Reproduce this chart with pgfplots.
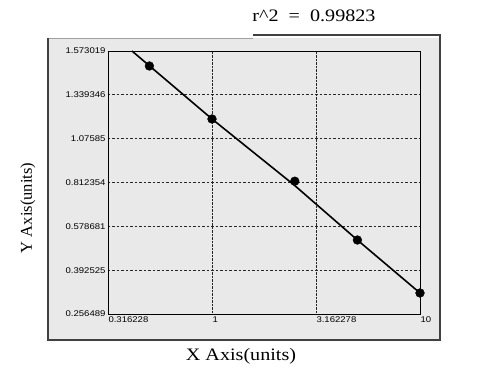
\documentclass[border=0pt]{standalone}
\usepackage{fontspec}
\setmainfont{Liberation Serif}
\setsansfont{Liberation Sans}
\usepackage{pgfplots}
\pgfplotsset{compat=1.18}
\definecolor{panel}{HTML}{E9E9E9}
\definecolor{frameg}{HTML}{A0A0A0}
\newcommand{\tl}[1]{\scalebox{1.15}[1]{\sffamily\fontsize{8.3}{9}\selectfont #1}}
\begin{document}
\begin{tikzpicture}[x=1pt,y=1pt]
\useasboundingbox (0,0) rectangle (493,-382);
\fill[panel] (48,-38) rectangle (440,-340);
\draw[frameg, line width=0.8] (48,-38) -- (253,-38);
\draw[black!75, line width=1.2] (253,-35) -- (440,-35) -- (440,-340) -- (48,-340) -- (48,-38);
\node[font=\fontsize{17.5}{20}\selectfont] at (314,-16) {\scalebox{1.15}[1]{r\textasciicircum 2\ \ =\ \ 0.99823}};
\node[rotate=90, font=\fontsize{16.5}{18}\selectfont] at (28,-208) {Y Axis(units)};
\node[font=\fontsize{17.5}{20}\selectfont] at (241,-356) {\scalebox{1.15}[1]{X Axis(units)}};
\begin{axis}[
  at={(108pt,-314pt)}, anchor=south west,
  scale only axis, width=312pt, height=263pt,
  xmode=log, xmin=0.316228, xmax=10, ymin=0, ymax=6,
  xtick={0.316228,1,3.162278,10},
  xticklabels={\tl{0.316228},\tl{1},\tl{3.162278},\tl{10}},
  ytick={0,1,2,3,4,5,6},
  yticklabels={\tl{0.256489},\tl{0.392525},\tl{0.578681},\tl{0.812354},\tl{1.07585},\tl{1.339346},\tl{1.573019}},
  major tick length=0pt,
  xticklabel style={anchor=north west, xshift=-3pt, yshift=1pt},
  yticklabel style={anchor=east, xshift=1pt},
  xmajorgrids, ymajorgrids,
  x grid style={densely dotted, black!85, line width=0.8},
  y grid style={dash pattern=on 2.5pt off 2pt, black!85, line width=0.8},
  axis background/.style={fill=panel},
  axis line style={black, line width=0.9},
  clip=false,
]
\addplot[black, line width=1.6] coordinates {(0.4124,6) (1,4.449) (2.5,2.93) (5,1.688) (10,0.479)};
\addplot[only marks, mark=*, mark size=4.4pt, black] coordinates {(0.5,5.658) (1,4.449) (2.5,3.03) (5,1.688) (10,0.479)};
\end{axis}
\end{tikzpicture}
\end{document}
